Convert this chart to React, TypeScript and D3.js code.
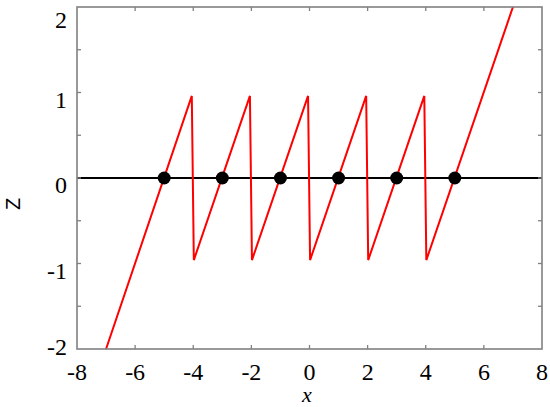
import React from "react";
import * as d3 from "d3";

const xTicks = [-8, -6, -4, -2, 0, 2, 4, 6, 8];
const yTicks = [-2, -1, 0, 1, 2];
const yMinorTicks = [-1.5, -1, -0.5, 0, 0.5, 1, 1.5];
const xMinorTicks = [-6, -4, -2, 0, 2, 4, 6];

// sawtooth curve vertices (x, z)
const curveX = [-7, -4.05, -3.98, -2.05, -1.98, -0.05, 0.02, 1.95, 2.02, 3.95, 4.02, 7];
const curveZ = [-2, 0.96, -0.96, 0.96, -0.96, 0.96, -0.96, 0.96, -0.96, 0.96, -0.96, 2];

const rootX = [-5, -3, -1, 1, 3, 5];
const rootZ = [0, 0, 0, 0, 0, 0];

const SERIF = "Liberation Serif, Times New Roman, serif";

export default function App() {
  const W = 550, H = 407;
  const left = 77, right = 542, top = 7, bottom = 349;
  const x = d3.scaleLinear().domain([-8, 8]).range([left, right]);
  const y = d3.scaleLinear().domain([-2, 2]).range([bottom, top]);
  const pts: [number, number][] = curveX.map((v, i) => [v, curveZ[i]]);
  const line = d3.line<[number, number]>().x(d => x(d[0])).y(d => y(d[1]));
  const axisColor = "#808080";
  const tl = 4;
  return (
    <svg width={W} height={H} style={{ position: "absolute", left: 0, top: 0, background: "#fff" }}>
      <line x1={x(-8)} x2={x(8)} y1={y(0)} y2={y(0)} stroke="#000" strokeWidth={2} />
      <path d={line(pts) || ""} fill="none" stroke="#ff0000" strokeWidth={2} strokeLinejoin="miter" />
      {rootX.map((v, i) => (
        <circle key={i} cx={x(v)} cy={y(rootZ[i])} r={6.5} fill="#000" />
      ))}
      <rect x={left} y={top} width={right - left} height={bottom - top} fill="none" stroke={axisColor} strokeWidth={1.6} />
      {xMinorTicks.map(v => (
        <g key={"xt" + v}>
          <line x1={x(v)} x2={x(v)} y1={bottom} y2={bottom - tl} stroke={axisColor} strokeWidth={1.3} />
          <line x1={x(v)} x2={x(v)} y1={top} y2={top + tl} stroke={axisColor} strokeWidth={1.3} />
        </g>
      ))}
      {yMinorTicks.map(v => (
        <g key={"yt" + v}>
          <line x1={left} x2={left + tl} y1={y(v)} y2={y(v)} stroke={axisColor} strokeWidth={1.3} />
          <line x1={right} x2={right - tl} y1={y(v)} y2={y(v)} stroke={axisColor} strokeWidth={1.3} />
        </g>
      ))}
      {xTicks.map(v => (
        <text key={"xl" + v} x={x(v)} y={380} textAnchor="middle" fontFamily={SERIF} fontSize={24} fill="#000">
          {String(v)}
        </text>
      ))}
      {yTicks.map(v => (
        <text key={"yl" + v} x={67} y={Math.min(347, Math.max(20, y(v) + 7)) + 8} textAnchor="end" fontFamily={SERIF} fontSize={24} fill="#000">
          {String(v)}
        </text>
      ))}
      <text x={307} y={402} textAnchor="middle" fontFamily={SERIF} fontStyle="italic" fontSize={22} fill="#000">x</text>
      <text transform="translate(20,204) rotate(-90)" textAnchor="middle" fontFamily="Liberation Sans" fontSize={20} fill="#000">Z</text>
    </svg>
  );
}
